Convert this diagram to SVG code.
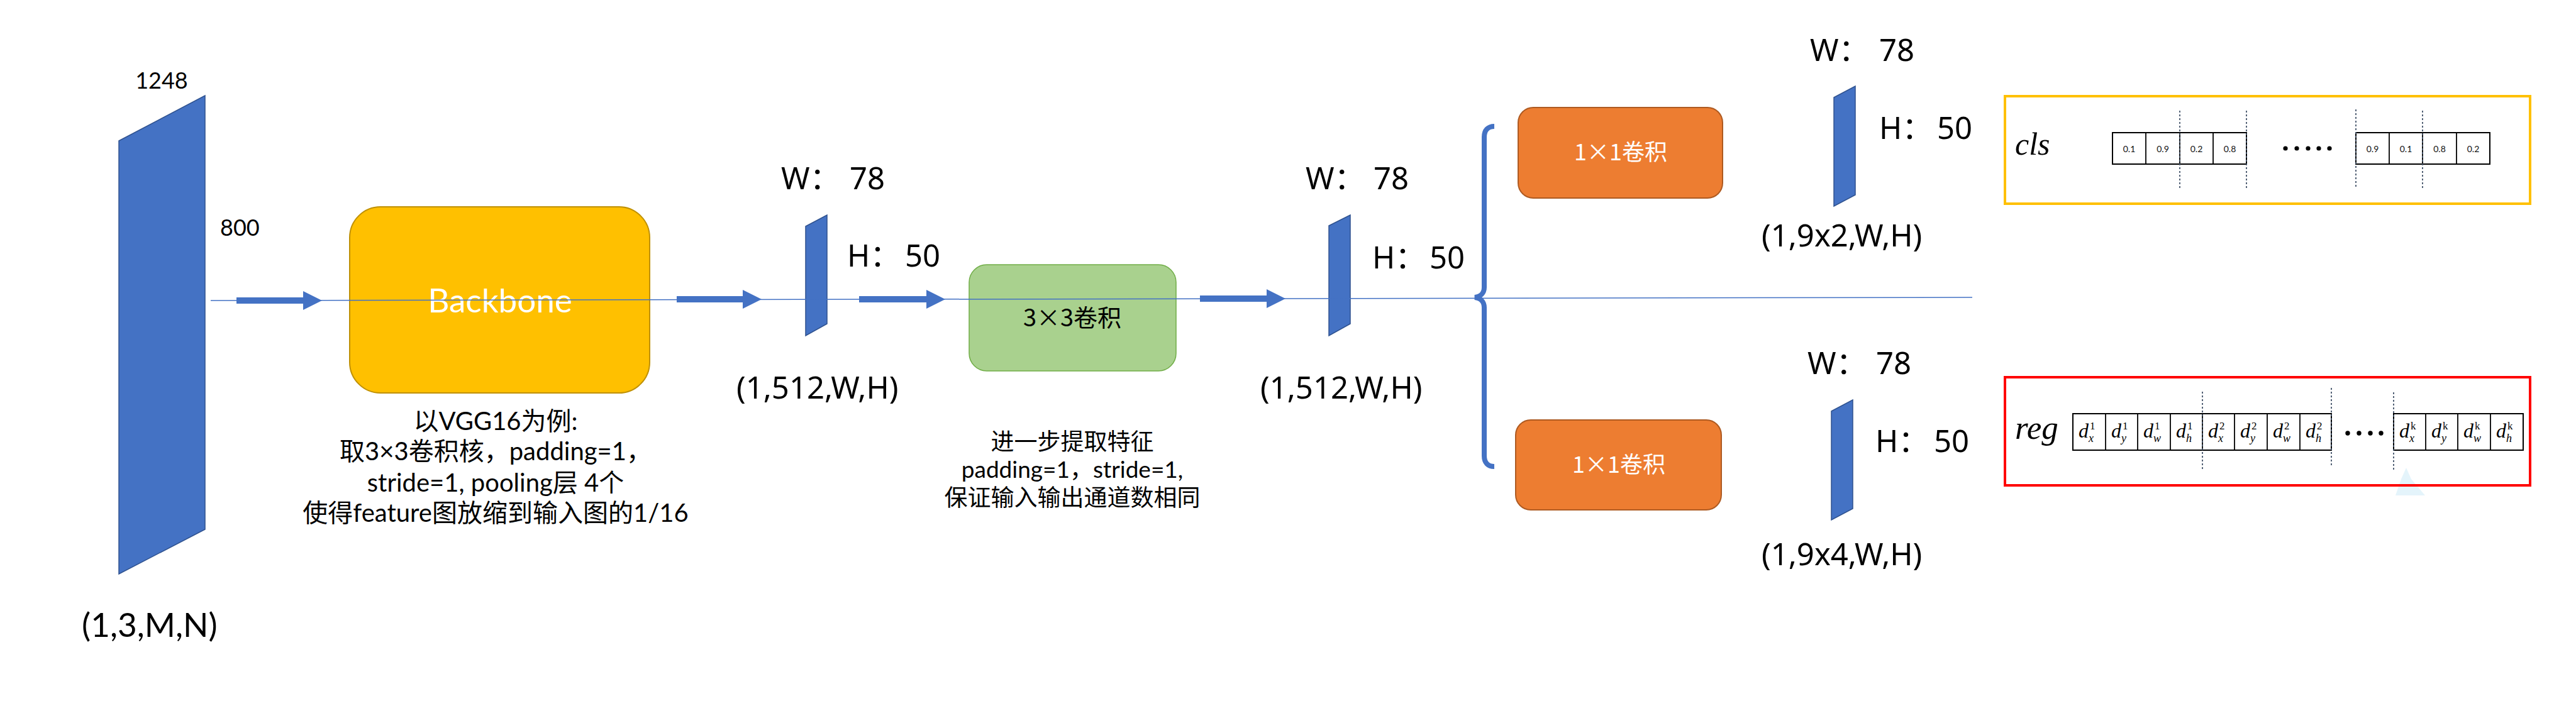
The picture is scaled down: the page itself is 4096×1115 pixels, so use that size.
<svg xmlns="http://www.w3.org/2000/svg" width="4096" height="1115" viewBox="0 0 4096 1115">
<style>
.fm{fill:#4472C4;stroke:#2F528F;stroke-width:1.5}
.arr{fill:#4472C4}
.lat{font-family:Lato,"Liberation Sans",sans-serif;fill:#000}
.lbl{font-family:"Noto Sans","Noto Sans CJK SC",sans-serif;font-size:49px;fill:#000}
.cap{font-family:Lato,"Noto Sans CJK SC",sans-serif;fill:#000;text-anchor:middle}
.cjk{font-family:"Noto Sans CJK SC","Noto Sans",sans-serif;text-anchor:middle}
.cell{fill:#fff;stroke:#000;stroke-width:2}
.div{stroke:#000;stroke-width:1.8}
.dot{stroke:#44546A;stroke-width:1.8;stroke-dasharray:3 3}
.val{font-family:Lato,"Liberation Sans",sans-serif;font-size:14px;fill:#111;text-anchor:middle}
.math{font-family:"Liberation Serif","Times New Roman",serif;fill:#000}
.d{font-style:italic;font-size:32px}
.sup{font-style:normal;font-size:17px}
.sub{font-style:italic;font-size:18px}
</style>
<rect width="4096" height="1115" fill="#fff"/>

<g id="input">
<polygon class="fm" points="189,224 326,152 326,842 189,913"/>
<text class="lat" x="257" y="141" font-size="36" text-anchor="middle">1248</text>
<text class="lat" x="350" y="375" font-size="36">800</text>
<text class="lat" x="130" y="1013" font-size="53">(1,3,M,N)</text>
</g>

<g id="backbone">
<rect x="556" y="329" width="477" height="296" rx="49" fill="#FFC000" stroke="#BF9000" stroke-width="2"/>
<text x="795" y="497" font-family="Lato,'Liberation Sans',sans-serif" font-size="53" fill="#fff" text-anchor="middle">Backbone</text>
<text class="cap" font-size="40"><tspan x="788" y="684">以VGG16为例:</tspan><tspan x="788" y="732">取3×3卷积核，padding=1，</tspan><tspan x="788" y="782">stride=1, pooling层 4个</tspan><tspan x="788" y="830">使得feature图放缩到输入图的1/16</tspan></text>
</g>

<g id="feature1">
<polygon class="fm" points="1281,360 1315,342 1315,515 1281,534"/>
<text class="lbl" x="1242" y="301">W：<tspan x="1351">78</tspan></text>
<text class="lbl" x="1347" y="424">H：<tspan x="1439">50</tspan></text>
<text class="lbl" x="1171" y="634">(1,512,W,H)</text>
</g>

<g id="conv3">
<rect x="1541" y="421" width="329" height="169" rx="28" fill="#A9D18E" stroke="#70AD47" stroke-width="1.5"/>
<text class="cjk" x="1705" y="519" font-size="38" fill="#000">3×3卷积</text>
<text class="cap" font-size="37"><tspan x="1705" y="716">进一步提取特征</tspan><tspan x="1705" y="760">padding=1，stride=1,</tspan><tspan x="1705" y="805">保证输入输出通道数相同</tspan></text>
</g>

<g id="feature2">
<polygon class="fm" points="2113,359 2147,342 2147,515 2113,534"/>
<text class="lbl" x="2076" y="301">W：<tspan x="2184">78</tspan></text>
<text class="lbl" x="2182" y="427">H：<tspan x="2273">50</tspan></text>
<text class="lbl" x="2004" y="634">(1,512,W,H)</text>
</g>

<g id="conv1x1-cls">
<rect x="2414" y="171" width="325" height="144" rx="24" fill="#ED7D31" stroke="#AE5A21" stroke-width="2"/>
<text class="cjk" x="2577" y="255" font-size="36" fill="#fff">1×1卷积</text>
</g>

<g id="conv1x1-reg">
<rect x="2410" y="668" width="327" height="143" rx="24" fill="#ED7D31" stroke="#AE5A21" stroke-width="2"/>
<text class="cjk" x="2574" y="752" font-size="36" fill="#fff">1×1卷积</text>
</g>

<g id="feature-cls">
<polygon class="fm" points="2916,155 2950,137 2950,310 2916,328"/>
<text class="lbl" x="2878" y="97">W：<tspan x="2988">78</tspan></text>
<text class="lbl" x="2988" y="221">H：<tspan x="3080">50</tspan></text>
<text class="lbl" x="2801" y="392">(1,9x2,W,H)</text>
</g>

<g id="feature-reg">
<polygon class="fm" points="2912,654 2946,636 2946,809 2912,827"/>
<text class="lbl" x="2874" y="595">W：<tspan x="2983">78</tspan></text>
<text class="lbl" x="2982" y="719">H：<tspan x="3075">50</tspan></text>
<text class="lbl" x="2801" y="899">(1,9x4,W,H)</text>
</g>

<g id="cls-output">
<rect x="3188" y="153" width="835" height="171" fill="none" stroke="#FFC000" stroke-width="4"/>
<text class="math" x="3204" y="246" font-size="50" font-style="italic">cls</text>
<rect class="cell" x="3359" y="211" width="213" height="50"/>
<line class="div" x1="3412" y1="211" x2="3412" y2="261"/>
<line class="div" x1="3466" y1="211" x2="3466" y2="261"/>
<line class="div" x1="3519" y1="211" x2="3519" y2="261"/>
<text class="val" x="3385.5" y="242">0.1</text>
<text class="val" x="3439" y="242">0.9</text>
<text class="val" x="3492.5" y="242">0.2</text>
<text class="val" x="3545.5" y="242">0.8</text>
<g fill="#000"><circle cx="3634" cy="236" r="3.6"/><circle cx="3652" cy="236" r="3.6"/><circle cx="3670" cy="236" r="3.6"/><circle cx="3687" cy="236" r="3.6"/><circle cx="3704" cy="236" r="3.6"/></g>
<rect class="cell" x="3746" y="211" width="213" height="50"/>
<line class="div" x1="3799" y1="211" x2="3799" y2="261"/>
<line class="div" x1="3852" y1="211" x2="3852" y2="261"/>
<line class="div" x1="3906" y1="211" x2="3906" y2="261"/>
<text class="val" x="3772.5" y="242">0.9</text>
<text class="val" x="3825.5" y="242">0.1</text>
<text class="val" x="3879" y="242">0.8</text>
<text class="val" x="3932.5" y="242">0.2</text>
<line class="dot" x1="3466" y1="176" x2="3466" y2="300"/>
<line class="dot" x1="3572" y1="176" x2="3572" y2="300"/>
<line class="dot" x1="3746" y1="174" x2="3746" y2="298"/>
<line class="dot" x1="3852" y1="176" x2="3852" y2="300"/>
</g>

<g id="reg-output">
<polygon points="3826,744 3834,762 3856,788 3809,788 3818,762" fill="#E4F4FB"/>
<rect x="3188" y="600" width="835" height="172" fill="none" stroke="#FF0000" stroke-width="4"/>
<text class="math" x="3204" y="698" font-size="53" font-style="italic">reg</text>
<rect class="cell" x="3296" y="658" width="411" height="58"/>
<line class="div" x1="3348" y1="658" x2="3348" y2="716"/>
<line class="div" x1="3399" y1="658" x2="3399" y2="716"/>
<line class="div" x1="3451" y1="658" x2="3451" y2="716"/>
<line class="div" x1="3502" y1="658" x2="3502" y2="716"/>
<line class="div" x1="3553" y1="658" x2="3553" y2="716"/>
<line class="div" x1="3605" y1="658" x2="3605" y2="716"/>
<line class="div" x1="3657" y1="658" x2="3657" y2="716"/>
<g class="math">
<text class="d" x="3305" y="696">d<tspan class="sup" x="3323" y="683">1</tspan><tspan class="sub" x="3321" y="703">x</tspan></text>
<text class="d" x="3357" y="696">d<tspan class="sup" x="3375" y="683">1</tspan><tspan class="sub" x="3373" y="703">y</tspan></text>
<text class="d" x="3408" y="696">d<tspan class="sup" x="3426" y="683">1</tspan><tspan class="sub" x="3424" y="703">w</tspan></text>
<text class="d" x="3460" y="696">d<tspan class="sup" x="3478" y="683">1</tspan><tspan class="sub" x="3476" y="703">h</tspan></text>
<text class="d" x="3511" y="696">d<tspan class="sup" x="3529" y="683">2</tspan><tspan class="sub" x="3527" y="703">x</tspan></text>
<text class="d" x="3562" y="696">d<tspan class="sup" x="3580" y="683">2</tspan><tspan class="sub" x="3578" y="703">y</tspan></text>
<text class="d" x="3614" y="696">d<tspan class="sup" x="3632" y="683">2</tspan><tspan class="sub" x="3630" y="703">w</tspan></text>
<text class="d" x="3666" y="696">d<tspan class="sup" x="3684" y="683">2</tspan><tspan class="sub" x="3682" y="703">h</tspan></text>
</g>
<g fill="#000"><circle cx="3733" cy="689" r="3.7"/><circle cx="3751" cy="689" r="3.7"/><circle cx="3769" cy="689" r="3.7"/><circle cx="3786" cy="689" r="3.7"/></g>
<rect class="cell" x="3806" y="658" width="206" height="58"/>
<line class="div" x1="3857" y1="658" x2="3857" y2="716"/>
<line class="div" x1="3908" y1="658" x2="3908" y2="716"/>
<line class="div" x1="3960" y1="658" x2="3960" y2="716"/>
<g class="math">
<text class="d" x="3815" y="696">d<tspan class="sup" x="3833" y="683">k</tspan><tspan class="sub" x="3831" y="703">x</tspan></text>
<text class="d" x="3866" y="696">d<tspan class="sup" x="3884" y="683">k</tspan><tspan class="sub" x="3882" y="703">y</tspan></text>
<text class="d" x="3917" y="696">d<tspan class="sup" x="3935" y="683">k</tspan><tspan class="sub" x="3933" y="703">w</tspan></text>
<text class="d" x="3969" y="696">d<tspan class="sup" x="3987" y="683">k</tspan><tspan class="sub" x="3985" y="703">h</tspan></text>
</g>
<line class="dot" x1="3502" y1="623" x2="3502" y2="749"/>
<line class="dot" x1="3707" y1="617" x2="3707" y2="743"/>
<line class="dot" x1="3806" y1="624" x2="3806" y2="748"/>
</g>

<g id="connectors">
<polygon class="arr" points="376,473 482,473 482,463 512,478 482,493 482,483 376,483"/>
<polygon class="arr" points="1076,471 1181,471 1181,461 1211,476 1181,491 1181,481 1076,481"/>
<polygon class="arr" points="1366,471 1473,471 1473,461 1503,476 1473,491 1473,481 1366,481"/>
<polygon class="arr" points="1908,470 2014,470 2014,460 2044,475 2014,490 2014,480 1908,480"/>
<line x1="335" y1="478" x2="3136" y2="473" stroke="#4472C4" stroke-width="1.5"/>
<path d="M2376,201 C2366,201 2360,207 2360,218 L2360,457 C2360,466 2354,472 2345,473 C2354,474 2360,480 2360,489 L2360,725 C2360,736 2366,742 2376,742" fill="none" stroke="#4472C4" stroke-width="8"/>
</g>
</svg>
